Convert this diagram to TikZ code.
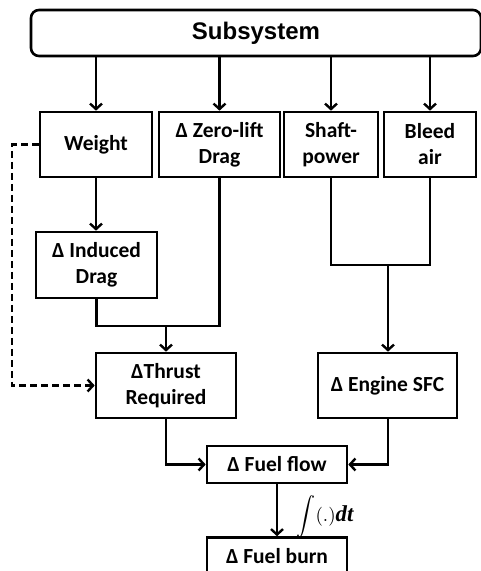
\documentclass[tikz,border=0pt]{standalone}
\usepackage[no-math]{fontspec}
\setmainfont{Carlito}
\newfontfamily\arialfont{Liberation Sans}
\newfontfamily\seriffont{Liberation Serif}
\usetikzlibrary{arrows.meta}
\begin{document}
\begin{tikzpicture}[x=1pt,y=-1pt,
  box/.style={draw,line width=2.6pt,rectangle,inner sep=0pt,align=center,
    font=\fontsize{21.5}{26}\selectfont\bfseries},
  arr/.style={line width=2.4pt,-{Straight Barb[length=5.5pt,width=12pt,line width=2.4pt]}},
  ln/.style={line width=2.4pt},
  dsh/.style={line width=2.4pt,dash pattern=on 7pt off 4pt,-{Straight Barb[length=5.5pt,width=12pt,line width=2.4pt]}}]
\useasboundingbox (0,0) rectangle (481,571);
\node[draw,line width=2.6pt,rounded corners=8pt,minimum width=450pt,minimum height=46pt,inner sep=0pt,
  font=\arialfont\fontsize{24}{28}\selectfont\bfseries] (sub) at (256,33) {Subsystem};
\node[box,minimum width=112pt,minimum height=65pt] (weight) at (96,144.5) {Weight};
\node[box,minimum width=121pt,minimum height=65pt] (zld) at (219.5,144.5) {Δ Zero-lift\\Drag};
\node[box,minimum width=94pt,minimum height=65pt] (shaft) at (331,144.5) {Shaft-\\power};
\node[box,minimum width=92pt,minimum height=65pt] (bleed) at (430,144.5) {Bleed\\air};
\node[box,minimum width=121pt,minimum height=66pt] (induced) at (96.5,265) {Δ Induced\\Drag};
\node[box,minimum width=140pt,minimum height=65pt] (thrust) at (166,385.5) {ΔThrust\\Required};
\node[box,minimum width=139pt,minimum height=65pt] (sfc) at (387.5,385.5) {Δ Engine SFC};
\node[box,minimum width=140pt,minimum height=37pt] (flow) at (277,464.5) {Δ Fuel flow};
\node[box,minimum width=140pt,minimum height=37pt] (burn) at (277,556) {Δ Fuel burn};
\node[inner sep=0pt,scale=1.9] (int) at (325,517) {$\displaystyle\int(.)\hbox{\seriffont\fontsize{12}{12}\selectfont\bfseries\itshape dt}$};
\coordinate (j1) at (166,326);
\coordinate (j2) at (388,265);
\coordinate (dl) at (12,0);
\draw[arr] (weight.north |- sub.south) -- (weight.north);
\draw[arr] (zld.north |- sub.south) -- (zld.north);
\draw[arr] (shaft.north |- sub.south) -- (shaft.north);
\draw[arr] (bleed.north |- sub.south) -- (bleed.north);
\draw[arr] (weight.south) -- (induced.north -| weight.south);
\draw[ln] (induced.south) |- (zld.south |- j1) -- (zld.south);
\draw[arr] (j1) -- (thrust.north);
\draw[ln] (shaft.south) |- (bleed.south |- j2) -- (bleed.south);
\draw[arr] (j2) -- (sfc.north -| j2);
\draw[arr] (thrust.south) |- (flow.west);
\draw[arr] (sfc.south -| j2) |- (flow.east);
\draw[arr] (flow.south) -- (burn.north);
\draw[dsh] (weight.west) -- (weight.west -| dl) |- (thrust.west);
\end{tikzpicture}
\end{document}
